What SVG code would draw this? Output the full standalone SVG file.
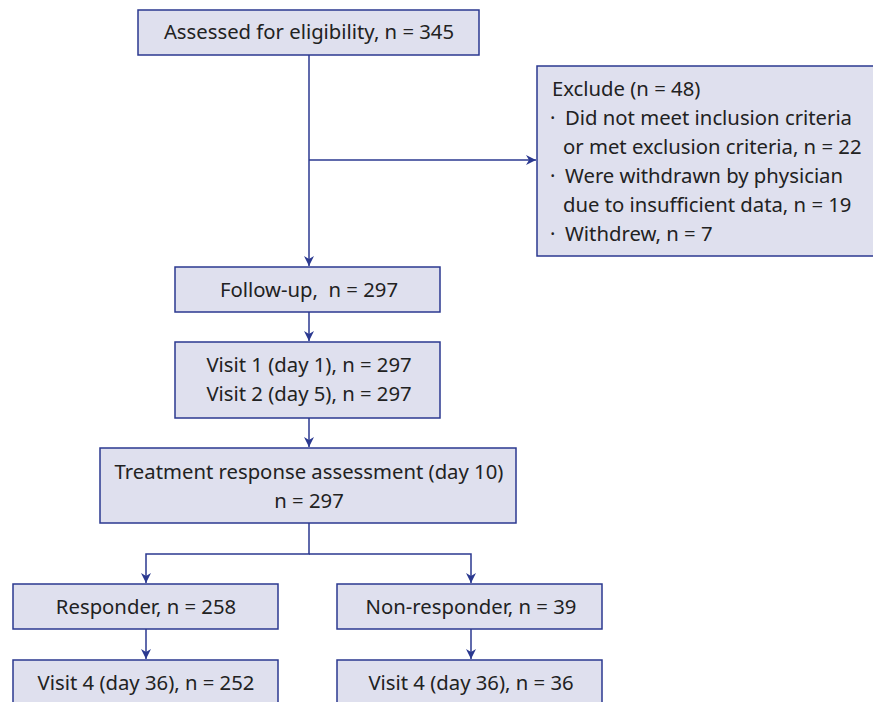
<svg xmlns="http://www.w3.org/2000/svg" width="873" height="702" viewBox="0 0 873 702">
<defs>
<marker id="ah" viewBox="0 0 10 10" refX="10" refY="5" markerWidth="10" markerHeight="10" markerUnits="userSpaceOnUse" orient="auto">
<path d="M0,0 L10,5 L0,10 L3,5 z" fill="#2b3990"/>
</marker>
<style>
.box{fill:#dfe0ee;stroke:#2b3990;stroke-width:1.5}
.t{font-family:"Noto Sans","Open Sans","Liberation Sans",sans-serif;font-size:20.3px;fill:#222}
.c{text-anchor:middle}
.ln{fill:none;stroke:#2b3990;stroke-width:1.5}
</style>
</defs>
<rect width="873" height="702" fill="#fff"/>
<g id="connectors">
<path class="ln" d="M309,55 V266" marker-end="url(#ah)"/>
<path class="ln" d="M309,160 H536" marker-end="url(#ah)"/>
<path class="ln" d="M309,312 V341" marker-end="url(#ah)"/>
<path class="ln" d="M309,418 V447" marker-end="url(#ah)"/>
<path class="ln" d="M309,523 V554 H146 V583" marker-end="url(#ah)"/>
<path class="ln" d="M309,554 H471 V583" marker-end="url(#ah)"/>
<path class="ln" d="M146,629 V659" marker-end="url(#ah)"/>
<path class="ln" d="M471,629 V659" marker-end="url(#ah)"/>
</g>
<g id="assessed">
<rect class="box" x="138" y="10" width="341" height="45"/>
<text class="t c" x="309" y="39">Assessed for eligibility, n = 345</text>
</g>
<g id="exclude">
<rect class="box" x="537" y="66" width="340" height="190"/>
<text class="t" x="552" y="96">Exclude (n = 48)</text>
<text class="t" x="550" y="124.5">·</text><text class="t" x="565" y="124.5">Did not meet inclusion criteria</text>
<text class="t" x="563" y="153.5">or met exclusion criteria, n = 22</text>
<text class="t" x="550" y="182.5">·</text><text class="t" x="565" y="182.5">Were withdrawn by physician</text>
<text class="t" x="563" y="211.5">due to insufficient data, n = 19</text>
<text class="t" x="550" y="240.5">·</text><text class="t" x="565" y="240.5">Withdrew, n = 7</text>
</g>
<g id="followup">
<rect class="box" x="175" y="267" width="265" height="45"/>
<text class="t c" x="309" y="296.5" style="white-space:pre">Follow-up,  n = 297</text>
</g>
<g id="visits">
<rect class="box" x="175" y="342" width="265" height="76"/>
<text class="t c" x="309" y="372">Visit 1 (day 1), n = 297</text>
<text class="t c" x="309" y="400.5">Visit 2 (day 5), n = 297</text>
</g>
<g id="treatment">
<rect class="box" x="100" y="448" width="416" height="75"/>
<text class="t c" x="309" y="479">Treatment response assessment (day 10)</text>
<text class="t c" x="309" y="507.5">n = 297</text>
</g>
<g id="responder">
<rect class="box" x="13" y="584" width="265" height="45"/>
<text class="t c" x="146" y="613.5">Responder, n = 258</text>
</g>
<g id="nonresponder">
<rect class="box" x="337" y="584" width="265" height="45"/>
<text class="t c" x="471" y="613.5">Non-responder, n = 39</text>
</g>
<g id="visit4a">
<rect class="box" x="13" y="660" width="265" height="50"/>
<text class="t c" x="146" y="689.5">Visit 4 (day 36), n = 252</text>
</g>
<g id="visit4b">
<rect class="box" x="337" y="660" width="265" height="50"/>
<text class="t c" x="471" y="689.5">Visit 4 (day 36), n = 36</text>
</g>
</svg>
